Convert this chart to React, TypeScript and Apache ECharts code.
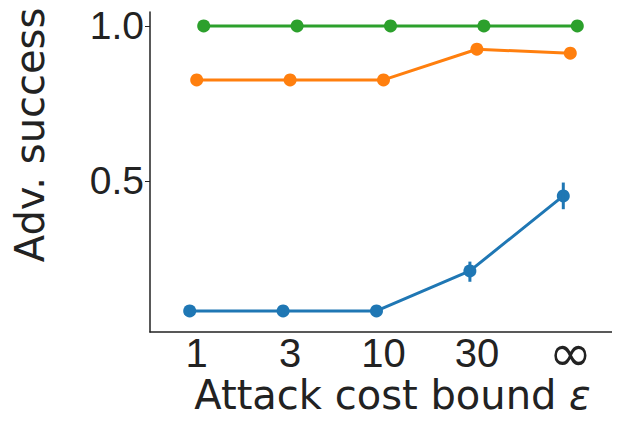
import React, { useEffect, useRef } from "react";
import * as echarts from "echarts";

const categories = ["1", "3", "10", "30", "∞"];
const blueValues = [0.081, 0.081, 0.081, 0.21, 0.452];
const blueLow = [0.07, 0.07, 0.07, 0.175, 0.409];
const blueHigh = [0.092, 0.092, 0.092, 0.24, 0.495];
const orangeValues = [0.826, 0.826, 0.826, 0.925, 0.912];
const greenValues = [1.0, 1.0, 1.0, 1.0, 1.0];
const yTicks = [0.5, 1.0];
const dodge = [-0.075, 0, 0.075];

const FONT = "DejaVu Sans";
const TICKFONT = "Liberation Sans";

export default function App() {
  const ref = useRef<HTMLDivElement>(null);
  useEffect(() => {
    if (!ref.current) return;
    const chart = echarts.init(ref.current, undefined, { renderer: "svg" });
    const mk = (vals: number[], off: number) => vals.map((v, i) => [i + off, v]);
    const errData = blueValues.map((_, i) => [i + dodge[0], blueLow[i], blueHigh[i]]);
    const colors = ["#1f77b4", "#ff7f0e", "#2ca02c"];
    const lineSeries = (name: string, vals: number[], idx: number) => ({
      name,
      type: "line",
      xAxisIndex: 1,
      data: mk(vals, dodge[idx]),
      symbol: "circle",
      symbolSize: 13,
      lineStyle: { color: colors[idx], width: 3 },
      itemStyle: { color: colors[idx] },
      z: 3,
    });
    chart.setOption({
      animation: false,
      grid: { left: 142, right: 3, top: 4, bottom: 96, containLabel: false, outerBoundsMode: "none" },
      xAxis: [
        {
          type: "category",
          data: categories,
          boundaryGap: true,
          axisLine: { lineStyle: { color: "#222", width: 1.5 } },
          axisTick: { alignWithLabel: true, interval: 0, length: 5, lineStyle: { color: "#222" } },
          axisLabel: {
            interval: 0,
            hideOverlap: false,
            fontFamily: TICKFONT,
            fontSize: 40,
            lineHeight: 30,
            color: "#222",
            margin: 6,
            formatter: (v: string) => (v === "∞" ? "{inf|∞}" : v),
            rich: {
              inf: { fontFamily: FONT, fontSize: 52, color: "#222", lineHeight: 30 },
            },
          },
          name: "Attack cost bound {eps|ε}",
          nameLocation: "middle",
          nameGap: 48,
          nameMoveOverlap: false,
          nameTextStyle: {
            fontFamily: FONT,
            fontSize: 40,
            lineHeight: 30,
            color: "#222",
            padding: [0, 0, 0, 18],
            rich: {
              eps: { fontFamily: FONT, fontSize: 40, lineHeight: 30, fontStyle: "italic", color: "#222" },
            },
          },
          splitLine: { show: false },
        },
        {
          type: "value",
          min: -0.5,
          max: 4.5,
          show: false,
          splitLine: { show: false },
        },
      ],
      yAxis: {
        type: "value",
        min: 0.013,
        max: 1.045,
        axisLine: { show: true, onZero: false, lineStyle: { color: "#222", width: 1.5 } },
        axisTick: { show: true, length: 5, customValues: yTicks, lineStyle: { color: "#222" } },
        axisLabel: {
          customValues: yTicks,
          formatter: (v: number) => v.toFixed(1),
          fontFamily: TICKFONT,
          fontSize: 39,
          lineHeight: 30,
          color: "#222",
          margin: 6,
        },
        splitLine: { show: false },
      },
      graphic: [
        {
          type: "text",
          x: 22,
          y: 127,
          rotation: Math.PI / 2,
          style: {
            text: "Adv. success",
            fontFamily: FONT,
            fontSize: 40,
            fill: "#222",
            textAlign: "center",
            textVerticalAlign: "middle",
          },
        },
      ],
      series: [
        lineSeries("blue", blueValues, 0),
        lineSeries("orange", orangeValues, 1),
        lineSeries("green", greenValues, 2),
        {
          type: "custom",
          xAxisIndex: 1,
          data: errData,
          z: 4,
          renderItem: (params: any, api: any) => {
            const x = api.value(0);
            const p1 = api.coord([x, api.value(1)]);
            const p2 = api.coord([x, api.value(2)]);
            return {
              type: "line",
              shape: { x1: p1[0], y1: p1[1], x2: p2[0], y2: p2[1] },
              style: { stroke: colors[0], lineWidth: 3 },
            };
          },
        },
      ],
    });
    return () => chart.dispose();
  }, []);
  return <div ref={ref} style={{ width: 612, height: 420 }} />;
}
